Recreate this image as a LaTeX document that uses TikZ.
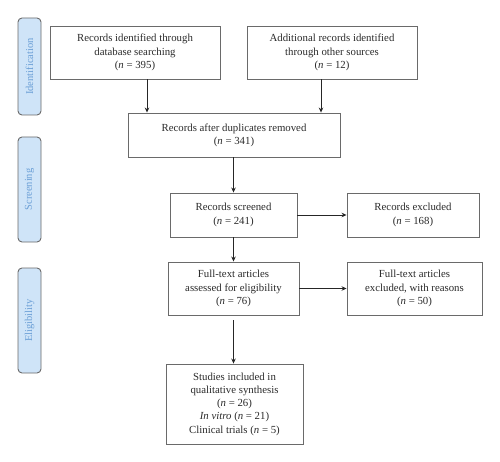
\documentclass[tikz,border=0pt]{standalone}
\usepackage{fontspec}
\setmainfont{Liberation Serif}
\usetikzlibrary{arrows.meta}
\definecolor{boxline}{HTML}{6A6A6A}
\definecolor{sidefill}{HTML}{CFE4F8}
\definecolor{sidetext}{HTML}{6B9FD6}
\definecolor{txt}{HTML}{2A2A2A}
\tikzset{
  flowbox/.style={draw=boxline, line width=0.9pt, rectangle, align=center, inner sep=2pt,
    text=txt, font=\fontsize{10.8}{13.3}\selectfont},
  sidebox/.style={draw=boxline, line width=0.9pt, rounded corners=4pt, fill=sidefill,
    minimum height=23pt, text=sidetext, font=\fontsize{10.5}{12}\selectfont, rotate=90, inner sep=1pt},
  arr/.style={draw=black!85, line width=0.9pt, -{Stealth[length=5pt,width=4.5pt]}}
}
\begin{document}
\begin{tikzpicture}[x=1pt,y=-1pt]
\useasboundingbox (0,0) rectangle (500,462);
% side labels
\node[sidebox, minimum width=97pt] (ident) at (29.5,66.5) {Identification};
\node[sidebox, minimum width=105pt] (screen) at (29.5,189.5) {Screening};
\node[sidebox, minimum width=105pt] (elig) at (29.5,320.5) {Eligibility};
% boxes
\node[flowbox, minimum width=170pt, minimum height=53pt] (db) at (135,52.5)
  {Records identified through\\database searching\\(\textit{n} = 395)};
\node[flowbox, minimum width=170pt, minimum height=53pt] (other) at (332,52.5)
  {Additional records identified\\through other sources\\(\textit{n} = 12)};
\node[flowbox, minimum width=212pt, minimum height=44pt] (dup) at (234,135)
  {Records after duplicates removed\\(\textit{n} = 341)};
\node[flowbox, minimum width=127pt, minimum height=44pt] (scr) at (233.5,215)
  {Records screened\\(\textit{n} = 241)};
\node[flowbox, minimum width=132pt, minimum height=44pt] (exc) at (413,215)
  {Records excluded\\(\textit{n} = 168)};
\node[flowbox, minimum width=131pt, minimum height=53pt] (full) at (233.5,288.5)
  {Full-text articles\\assessed for eligibility\\(\textit{n} = 76)};
\node[flowbox, minimum width=135pt, minimum height=53pt] (exc2) at (414.5,288.5)
  {Full-text articles\\excluded, with reasons\\(\textit{n} = 50)};
\node[flowbox, minimum width=137pt, minimum height=80pt] (inc) at (234.5,404)
  {Studies included in\\qualitative synthesis\\(\textit{n} = 26)\\\textit{In vitro} (\textit{n} = 21)\\Clinical trials (\textit{n} = 5)};
% connectors
\draw[arr] ([xshift=12pt]db.south) -- ([xshift=12pt]db.south |- dup.north);
\draw[arr] ([xshift=-11pt]other.south) -- ([xshift=-11pt]other.south |- dup.north);
\draw[arr] (scr.north |- dup.south) -- (scr.north);
\draw[arr] (scr.east) -- (scr.east -| exc.west);
\draw[arr] (scr.south) -- (full.north -| scr.south);
\draw[arr] (full.east) -- (full.east -| exc2.west);
\draw[arr] ([yshift=-5pt]full.south) -- (inc.north -| full.south);
\end{tikzpicture}
\end{document}
